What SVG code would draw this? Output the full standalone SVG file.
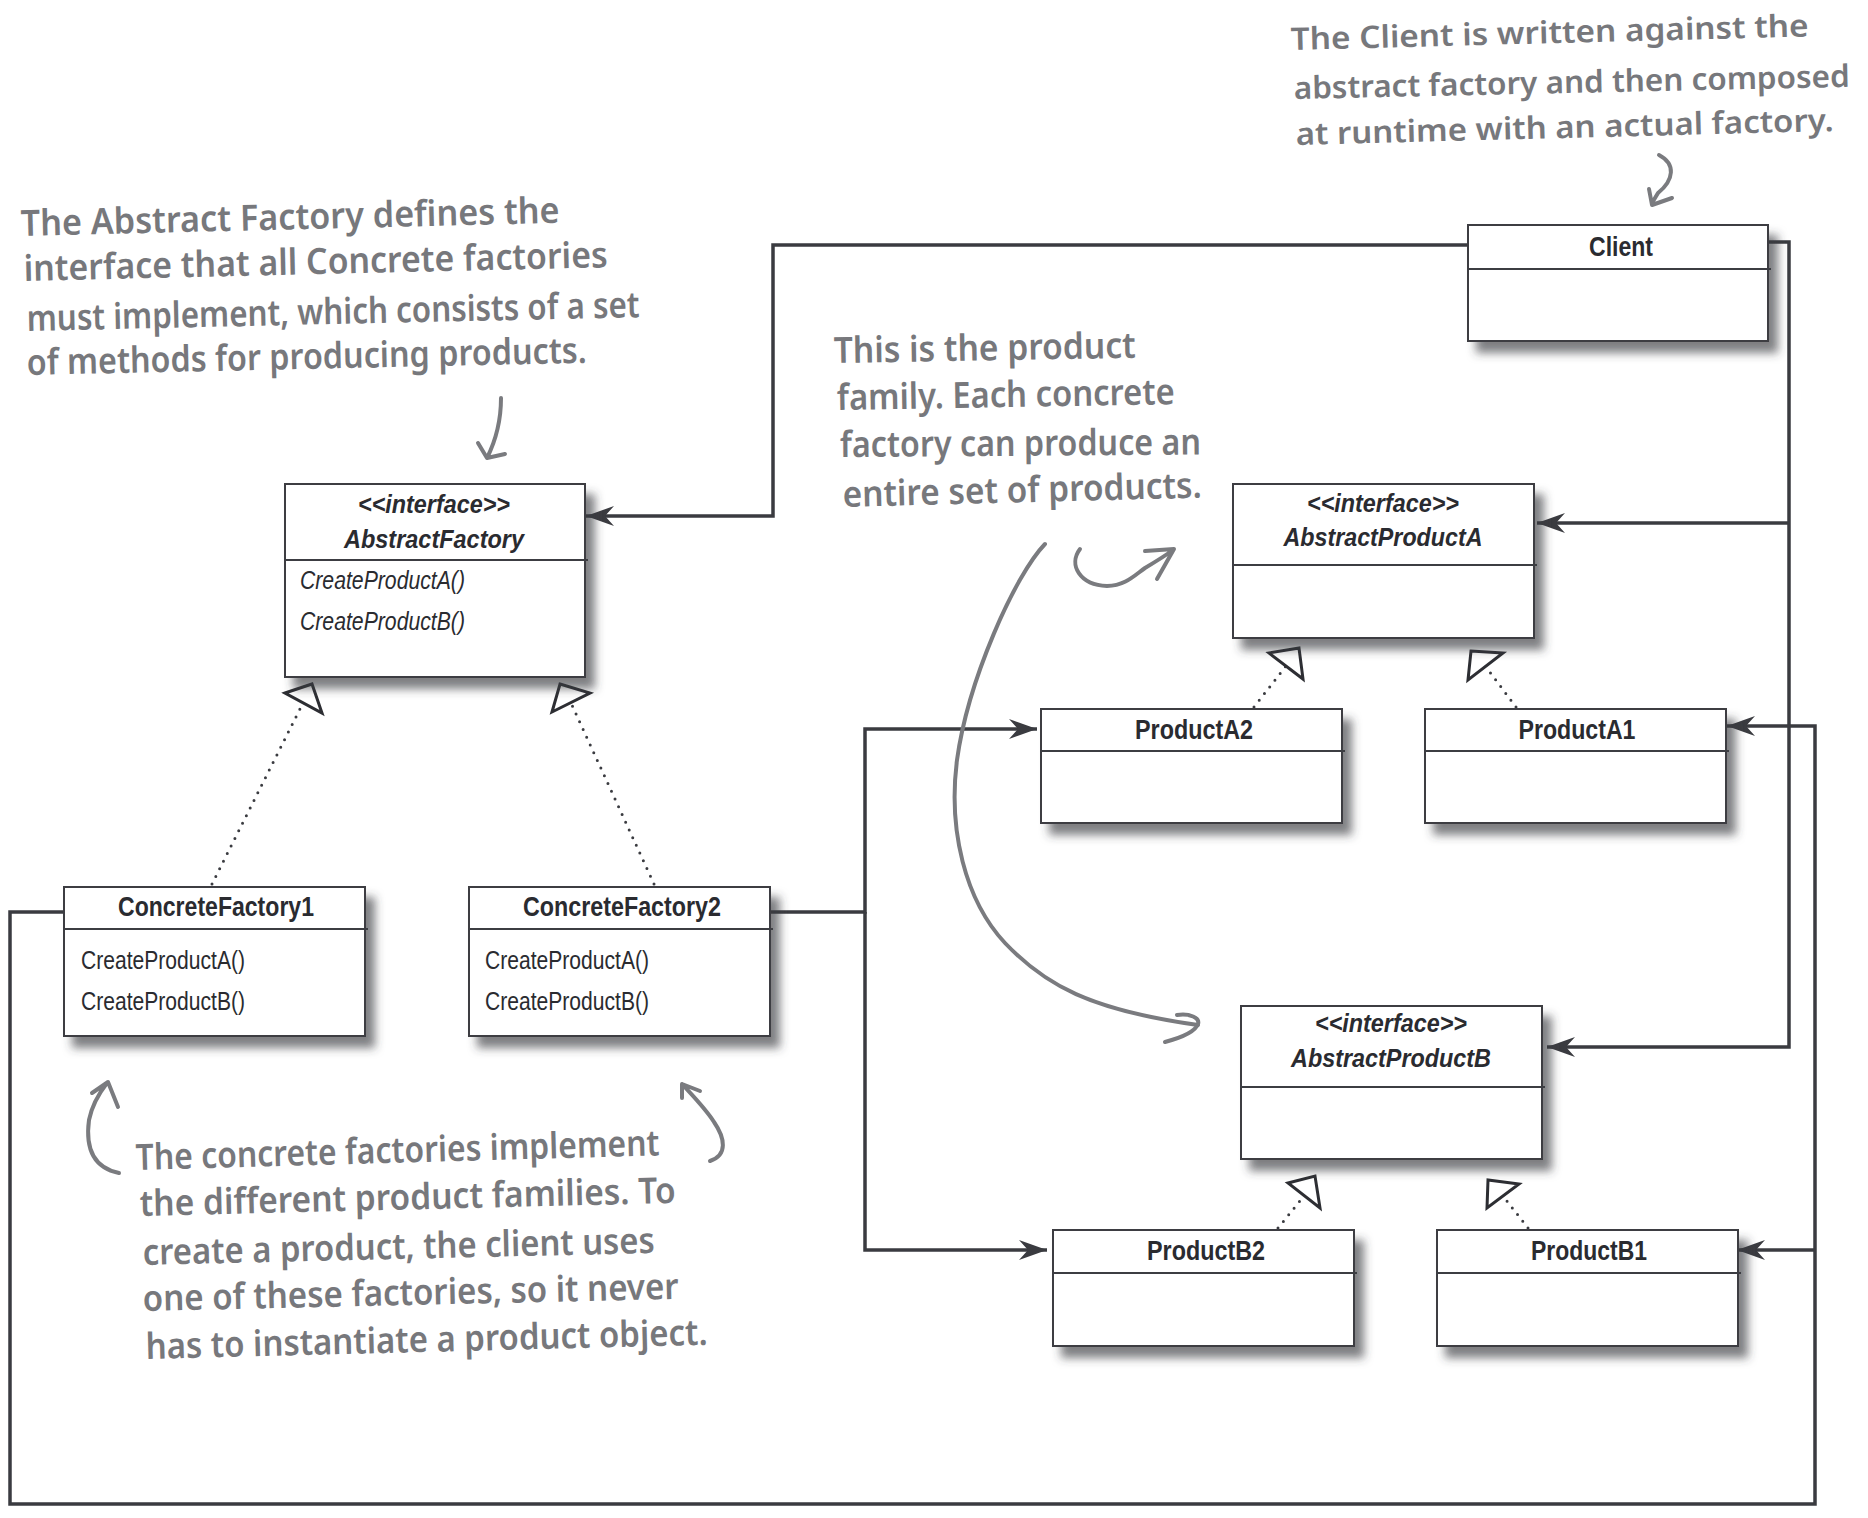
<svg xmlns="http://www.w3.org/2000/svg" width="1868" height="1518" viewBox="0 0 1868 1518">
<defs>
<filter id="sh" x="-10%" y="-10%" width="130%" height="140%">
<feGaussianBlur in="SourceAlpha" stdDeviation="5"/>
<feOffset dx="9" dy="11" result="b"/>
<feFlood flood-color="#3a3b40" flood-opacity="0.65"/>
<feComposite in2="b" operator="in"/>
<feMerge><feMergeNode/><feMergeNode in="SourceGraphic"/></feMerge>
</filter>
<marker id="arr" markerWidth="30" markerHeight="22" refX="28" refY="10" orient="auto" markerUnits="userSpaceOnUse">
<path d="M0,0 L28,10 L0,20 L9,10 Z" fill="#3a3b40"/>
</marker>
</defs>
<style>
.box{fill:#fff;stroke:#3c3d42;stroke-width:2}
.div{stroke:#3c3d42;stroke-width:2}
.t{font-family:"Liberation Sans Narrow","Liberation Sans",Arial,sans-serif;fill:#2a2b30;text-anchor:middle}
.tb{font-weight:bold;font-size:27px}
.ti{font-weight:bold;font-style:italic;font-size:26px}
.m{font-family:"Liberation Sans Narrow","Liberation Sans",Arial,sans-serif;fill:#2a2b30;font-size:25px}
.mi{font-style:italic}
.con{fill:none;stroke:#3a3b40;stroke-width:3.5}
.dot{fill:none;stroke:#3a3b40;stroke-width:3;stroke-linecap:round;stroke-dasharray:0 8.5}
.tri{fill:#fff;stroke:#2d2e33;stroke-width:3;stroke-linejoin:miter}
.hw{font-family:"Noto Sans","Open Sans",sans-serif;font-size:36px;font-weight:600;fill:#77787c}
.hs{font-size:31px}
.ha{fill:none;stroke:#7a7b7f;stroke-width:4;stroke-linecap:round;stroke-linejoin:round}
</style>

<g id="connectors">
<path class="con" d="M1468,245 H773 V516 H586" marker-end="url(#arr)"/>
<path class="con" d="M1766,242 H1789 V1047 H1547" marker-end="url(#arr)"/>
<path class="con" d="M1789,523 H1537" marker-end="url(#arr)"/>
<path class="con" d="M64,912 H10 V1504 H1815 V726 H1727" marker-end="url(#arr)"/>
<path class="con" d="M1815,1250 H1737" marker-end="url(#arr)"/>
<path class="con" d="M770,912 H865 V729 H1037" marker-end="url(#arr)"/>
<path class="con" d="M865,912 V1250 H1047" marker-end="url(#arr)"/>
<path class="dot" d="M212,884 L303,703"/>
<path class="dot" d="M654,884 L571,703"/>
<path class="dot" d="M1254,707 L1286,666"/>
<path class="dot" d="M1516,707 L1486,667"/>
<path class="dot" d="M1278,1228 L1304,1196"/>
<path class="dot" d="M1528,1228 L1503,1196"/>
<polygon class="tri" points="285,693 312,684 322,713"/>
<polygon class="tri" points="560,684 590,693 552,712"/>
<polygon class="tri" points="1269,653 1299,648 1303,679"/>
<polygon class="tri" points="1471,651 1503,653 1468,680"/>
<polygon class="tri" points="1288,1183 1315,1176 1320,1208"/>
<polygon class="tri" points="1487,1208 1488,1180 1519,1184"/>
</g>

<g id="client">
<rect class="box" x="1468" y="225" width="300" height="116" filter="url(#sh)"/>
<line class="div" x1="1468" y1="269" x2="1771" y2="269"/>
<text class="t tb" x="1621" y="256" textLength="64" lengthAdjust="spacingAndGlyphs">Client</text>
</g>

<g id="abstractFactory">
<rect class="box" x="285" y="484" width="300" height="193" filter="url(#sh)"/>
<line class="div" x1="285" y1="560" x2="588" y2="560"/>
<text class="t ti" x="434" y="513" textLength="152" lengthAdjust="spacingAndGlyphs">&lt;&lt;interface&gt;&gt;</text>
<text class="t ti" x="434" y="548" textLength="180" lengthAdjust="spacingAndGlyphs">AbstractFactory</text>
<text class="m mi" x="300" y="589" textLength="165" lengthAdjust="spacingAndGlyphs">CreateProductA()</text>
<text class="m mi" x="300" y="630" textLength="165" lengthAdjust="spacingAndGlyphs">CreateProductB()</text>
</g>

<g id="abstractProductA">
<rect class="box" x="1233" y="484" width="301" height="154" filter="url(#sh)"/>
<line class="div" x1="1233" y1="565" x2="1537" y2="565"/>
<text class="t ti" x="1383" y="512" textLength="152" lengthAdjust="spacingAndGlyphs">&lt;&lt;interface&gt;&gt;</text>
<text class="t ti" x="1383" y="546" textLength="199" lengthAdjust="spacingAndGlyphs">AbstractProductA</text>
</g>

<g id="productA2">
<rect class="box" x="1041" y="709" width="301" height="114" filter="url(#sh)"/>
<line class="div" x1="1041" y1="751" x2="1345" y2="751"/>
<text class="t tb" x="1194" y="739" textLength="118" lengthAdjust="spacingAndGlyphs">ProductA2</text>
</g>

<g id="productA1">
<rect class="box" x="1425" y="709" width="301" height="114" filter="url(#sh)"/>
<line class="div" x1="1425" y1="751" x2="1729" y2="751"/>
<text class="t tb" x="1577" y="739" textLength="117" lengthAdjust="spacingAndGlyphs">ProductA1</text>
</g>

<g id="concreteFactory1">
<rect class="box" x="64" y="887" width="301" height="149" filter="url(#sh)"/>
<line class="div" x1="64" y1="929" x2="368" y2="929"/>
<text class="t tb" x="216" y="916" textLength="196" lengthAdjust="spacingAndGlyphs">ConcreteFactory1</text>
<text class="m" x="81" y="969" textLength="164" lengthAdjust="spacingAndGlyphs">CreateProductA()</text>
<text class="m" x="81" y="1010" textLength="164" lengthAdjust="spacingAndGlyphs">CreateProductB()</text>
</g>

<g id="concreteFactory2">
<rect class="box" x="469" y="887" width="301" height="149" filter="url(#sh)"/>
<line class="div" x1="469" y1="929" x2="773" y2="929"/>
<text class="t tb" x="622" y="916" textLength="198" lengthAdjust="spacingAndGlyphs">ConcreteFactory2</text>
<text class="m" x="485" y="969" textLength="164" lengthAdjust="spacingAndGlyphs">CreateProductA()</text>
<text class="m" x="485" y="1010" textLength="164" lengthAdjust="spacingAndGlyphs">CreateProductB()</text>
</g>

<g id="abstractProductB">
<rect class="box" x="1241" y="1006" width="301" height="153" filter="url(#sh)"/>
<line class="div" x1="1241" y1="1087" x2="1545" y2="1087"/>
<text class="t ti" x="1391" y="1032" textLength="152" lengthAdjust="spacingAndGlyphs">&lt;&lt;interface&gt;&gt;</text>
<text class="t ti" x="1391" y="1067" textLength="200" lengthAdjust="spacingAndGlyphs">AbstractProductB</text>
</g>

<g id="productB2">
<rect class="box" x="1053" y="1230" width="301" height="116" filter="url(#sh)"/>
<line class="div" x1="1053" y1="1273" x2="1357" y2="1273"/>
<text class="t tb" x="1206" y="1260" textLength="118" lengthAdjust="spacingAndGlyphs">ProductB2</text>
</g>

<g id="productB1">
<rect class="box" x="1437" y="1230" width="301" height="116" filter="url(#sh)"/>
<line class="div" x1="1437" y1="1273" x2="1741" y2="1273"/>
<text class="t tb" x="1589" y="1260" textLength="116" lengthAdjust="spacingAndGlyphs">ProductB1</text>
</g>

<g id="note-abstract-factory">
<text class="hw" x="21" y="236" transform="rotate(-1.4 21 236)" textLength="539" lengthAdjust="spacingAndGlyphs">The Abstract Factory defines the</text>
<text class="hw" x="24" y="281" transform="rotate(-1.35 24 281)" textLength="584" lengthAdjust="spacingAndGlyphs">interface that all Concrete factories</text>
<text class="hw" x="27" y="331" transform="rotate(-1.3 27 331)" textLength="613" lengthAdjust="spacingAndGlyphs">must implement, which consists of a set</text>
<text class="hw" x="27" y="375" transform="rotate(-1.25 27 375)" textLength="560" lengthAdjust="spacingAndGlyphs">of methods for producing products.</text>
<path class="ha" d="M501,398 C501,420 496,440 487,458 M478,443 L487,458 L505,454"/>
</g>

<g id="note-client">
<text class="hw hs" x="1291" y="50" transform="rotate(-1.5 1291 50)" textLength="518" lengthAdjust="spacingAndGlyphs">The Client is written against the</text>
<text class="hw hs" x="1294" y="99" transform="rotate(-1.25 1294 99)" textLength="556" lengthAdjust="spacingAndGlyphs">abstract factory and then composed</text>
<text class="hw hs" x="1296" y="145" transform="rotate(-1.5 1296 145)" textLength="538" lengthAdjust="spacingAndGlyphs">at runtime with an actual factory.</text>
<path class="ha" d="M1659,155 C1676,164 1674,180 1658,193 L1652,203 M1649,189 L1652,205 L1672,198"/>
</g>

<g id="note-product-family">
<text class="hw" x="834" y="363" transform="rotate(-1 834 363)" textLength="302" lengthAdjust="spacingAndGlyphs">This is the product</text>
<text class="hw" x="837" y="410" transform="rotate(-1 837 410)" textLength="338" lengthAdjust="spacingAndGlyphs">family. Each concrete</text>
<text class="hw" x="840" y="457" transform="rotate(-0.4 840 457)" textLength="361" lengthAdjust="spacingAndGlyphs">factory can produce an</text>
<text class="hw" x="843" y="507" transform="rotate(-1.5 843 507)" textLength="359" lengthAdjust="spacingAndGlyphs">entire set of products.</text>
<path class="ha" d="M1045,544 C1015,575 968,680 957,760 C948,830 965,900 1005,943 C1045,985 1090,1010 1198,1025"/>
<path class="ha" d="M1177,1015 C1190,1013 1200,1018 1198,1024 C1195,1032 1180,1038 1165,1042"/>
<path class="ha" d="M1080,549 C1068,565 1080,585 1107,586 C1125,586 1135,575 1145,568 C1155,562 1165,556 1173,550 M1145,551 L1174,549 L1157,579"/>
</g>

<g id="note-concrete-factories">
<text class="hw" x="136" y="1170" transform="rotate(-1.6 136 1170)" textLength="524" lengthAdjust="spacingAndGlyphs">The concrete factories implement</text>
<text class="hw" x="140" y="1216" transform="rotate(-1.4 140 1216)" textLength="536" lengthAdjust="spacingAndGlyphs">the different product families. To</text>
<text class="hw" x="143" y="1265" transform="rotate(-1.35 143 1265)" textLength="512" lengthAdjust="spacingAndGlyphs">create a product, the client uses</text>
<text class="hw" x="143" y="1311" transform="rotate(-1.3 143 1311)" textLength="536" lengthAdjust="spacingAndGlyphs">one of these factories, so it never</text>
<text class="hw" x="146" y="1359" transform="rotate(-1.45 146 1359)" textLength="562" lengthAdjust="spacingAndGlyphs">has to instantiate a product object.</text>
<path class="ha" d="M119,1173 C95,1168 85,1150 89,1120 C92,1105 100,1092 107,1083 M92,1093 L108,1082 L118,1107"/>
<path class="ha" d="M710,1161 C728,1155 725,1138 714,1122 C705,1108 692,1095 682,1084 M682,1098 L682,1084 L700,1091"/>
</g>
</svg>
